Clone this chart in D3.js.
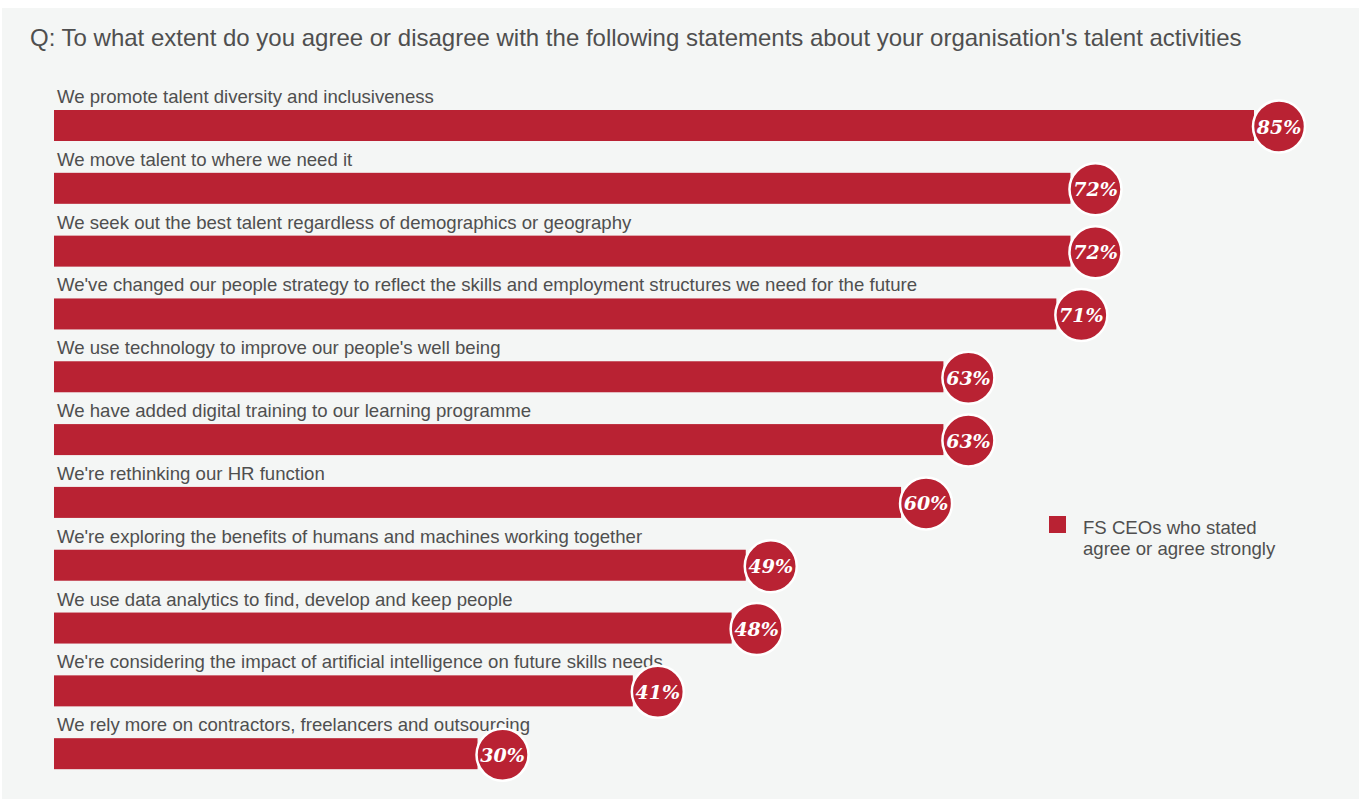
<!DOCTYPE html>
<html>
<head>
<meta charset="utf-8">
<script src="https://cdn.jsdelivr.net/npm/d3@7"></script>
<style>
  html, body { margin: 0; padding: 0; background: #ffffff; }
  svg { display: block; }
</style>
</head>
<body>
<svg id="chart" width="1361" height="799"></svg>
<script>
const title = "Q: To what extent do you agree or disagree with the following statements about your organisation's talent activities";
const categories = [
  "We promote talent diversity and inclusiveness",
  "We move talent to where we need it",
  "We seek out the best talent regardless of demographics or geography",
  "We've changed our people strategy to reflect the skills and employment structures we need for the future",
  "We use technology to improve our people's well being",
  "We have added digital training to our learning programme",
  "We're rethinking our HR function",
  "We're exploring the benefits of humans and machines working together",
  "We use data analytics to find, develop and keep people",
  "We're considering the impact of artificial intelligence on future skills needs",
  "We rely more on contractors, freelancers and outsourcing"
];
const values = [85, 72, 72, 71, 63, 63, 60, 49, 48, 41, 30];
const legendLines = ["FS CEOs who stated", "agree or agree strongly"];

const W = 1361, H = 799;
const barColor = "#b92233";
const textColor = "#4f4f4f";
const svg = d3.select("#chart");

svg.append("rect").attr("x", 2).attr("y", 8).attr("width", W - 4).attr("height", H - 8)
  .attr("fill", "#f4f6f5");

svg.append("text").attr("x", 30).attr("y", 46)
  .attr("font-family", "Liberation Sans, Arial, sans-serif").attr("font-size", 24)
  .attr("fill", textColor).text(title);

const x = d3.scaleLinear().domain([0, 85]).range([54, 1254]);
const y = d3.scaleBand().domain(categories).range([98, 789]).paddingInner(0);
const barTop = 12, barH = 31;

const rows = svg.append("g").selectAll("g").data(categories).join("g")
  .attr("transform", d => `translate(0,${y(d)})`);

rows.append("text").attr("x", 57).attr("y", 5)
  .attr("font-family", "Liberation Sans, Arial, sans-serif").attr("font-size", 18.6)
  .attr("fill", textColor).text(d => d);

rows.append("rect").attr("x", x(0)).attr("y", barTop)
  .attr("width", (d, i) => x(values[i]) - x(0)).attr("height", barH)
  .attr("fill", barColor);

const r = 26;
rows.append("circle").attr("cx", (d, i) => x(values[i]) + 25).attr("cy", barTop + barH / 2 + 1)
  .attr("r", r).attr("fill", barColor).attr("stroke", "#ffffff").attr("stroke-width", 2.5);

rows.append("text").attr("x", (d, i) => x(values[i]) + 25).attr("y", barTop + barH / 2 + 8)
  .attr("text-anchor", "middle")
  .attr("font-family", "DejaVu Serif, Liberation Serif, serif").attr("font-size", 19)
  .attr("font-weight", "bold").attr("font-style", "italic")
  .attr("fill", "#ffffff").text((d, i) => values[i] + "%");

const leg = svg.append("g").attr("transform", "translate(1049,516)");
leg.append("rect").attr("width", 17).attr("height", 17).attr("fill", barColor);
leg.selectAll("text").data(legendLines).join("text")
  .attr("x", 34).attr("y", (d, i) => 18 + i * 21)
  .attr("font-family", "Liberation Sans, Arial, sans-serif").attr("font-size", 18.6)
  .attr("fill", textColor).text(d => d);
</script>
</body>
</html>
